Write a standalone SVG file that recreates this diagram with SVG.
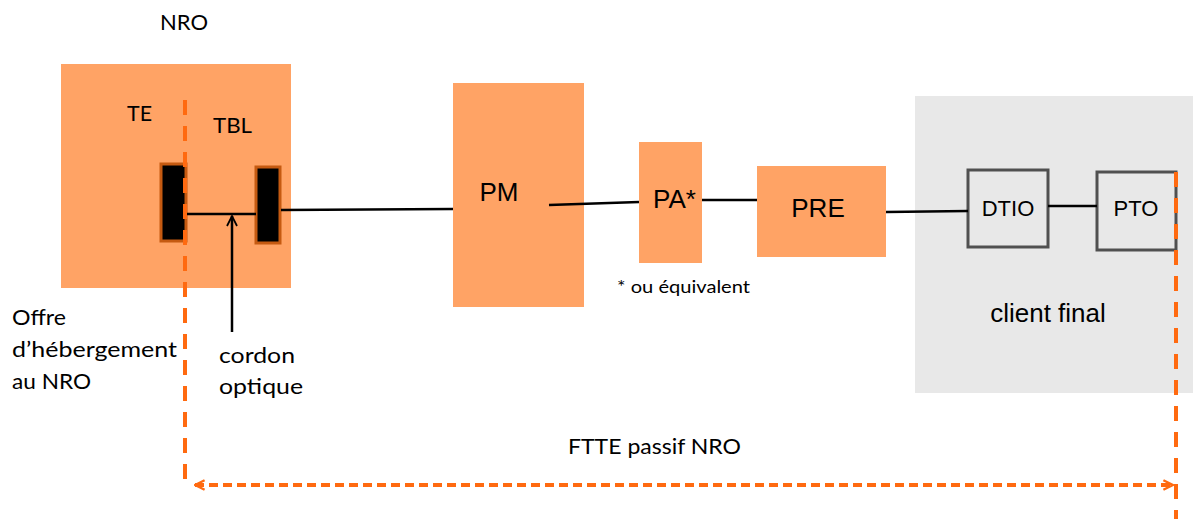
<svg xmlns="http://www.w3.org/2000/svg" width="1193" height="519" viewBox="0 0 1193 519">
<defs>
<style>
.box{fill:#FFA365}
.term{fill:#000;stroke:#C55A11;stroke-width:3}
.wht{fill:none;stroke:#505050;stroke-width:3}
.ln{stroke:#000;stroke-width:2.5;fill:none}
.od{stroke:#FF6A10;stroke-width:4;fill:none;stroke-dasharray:15 11}
.oh{stroke:#FF6A10;stroke-width:4;fill:none;stroke-dasharray:9 5}
.t1{font-family:"Liberation Sans",Arial,sans-serif;fill:#000}
.t2{font-family:Lato,"Open Sans",sans-serif;fill:#000}
</style>
<marker id="oa" viewBox="0 0 10 10" refX="9" refY="5" markerWidth="3" markerHeight="3" orient="auto-start-reverse" markerUnits="strokeWidth">
<path d="M1,1 L9,5 L1,9" fill="none" stroke="#FF6A10" stroke-width="2"/>
</marker>
<marker id="ba" viewBox="0 0 10 10" refX="9" refY="5" markerWidth="5" markerHeight="5" orient="auto" markerUnits="strokeWidth">
<path d="M1,1 L9,5 L1,9" fill="none" stroke="#000" stroke-width="1.4"/>
</marker>
</defs>
<rect width="1193" height="519" fill="#fff"/>

<g id="client">
<rect x="915" y="96" width="278" height="297" fill="#E8E8E8"/>
<text class="t1" x="1048" y="322" font-size="26" text-anchor="middle">client final</text>
</g>

<g id="nro">
<text class="t2" x="160" y="30" font-size="22" textLength="48" lengthAdjust="spacingAndGlyphs">NRO</text>
<rect class="box" x="61" y="64" width="230" height="224"/>
<text class="t2" x="127" y="121" font-size="22" textLength="25" lengthAdjust="spacingAndGlyphs">TE</text>
<text class="t2" x="213" y="133" font-size="22" textLength="39" lengthAdjust="spacingAndGlyphs">TBL</text>
</g>
<g id="te-term"><rect class="term" x="161" y="164" width="25" height="77"/></g>
<g id="tbl-term"><rect class="term" x="256" y="167" width="24" height="76"/></g>

<g id="pm">
<rect class="box" x="453" y="83" width="131" height="224"/>
<text class="t1" x="499" y="201" font-size="26" text-anchor="middle">PM</text>
</g>
<g id="pa">
<rect class="box" x="639" y="142" width="63" height="121"/>
<text class="t1" x="653" y="208" font-size="26">PA*</text>
<text class="t2" x="617" y="293" font-size="17" textLength="133" lengthAdjust="spacingAndGlyphs">* ou équivalent</text>
</g>
<g id="pre">
<rect class="box" x="757" y="166" width="129" height="91"/>
<text class="t1" x="818" y="217" font-size="26" text-anchor="middle">PRE</text>
</g>
<g id="dtio">
<rect class="wht" x="968" y="170" width="80" height="77"/>
<text class="t1" x="1008" y="216" font-size="22" text-anchor="middle">DTIO</text>
</g>
<g id="pto">
<rect class="wht" x="1097" y="172" width="79" height="78"/>
<text class="t1" x="1136" y="216" font-size="22" text-anchor="middle">PTO</text>
</g>

<g id="labels">
<text class="t2" x="12" y="325" font-size="22" textLength="54" lengthAdjust="spacingAndGlyphs">Offre</text>
<text class="t2" x="12" y="357" font-size="22" textLength="165" lengthAdjust="spacingAndGlyphs">d’hébergement</text>
<text class="t2" x="12" y="389" font-size="22" textLength="79" lengthAdjust="spacingAndGlyphs">au NRO</text>
<text class="t2" x="219" y="363" font-size="22" textLength="76" lengthAdjust="spacingAndGlyphs">cordon</text>
<text class="t2" x="219" y="394" font-size="22" textLength="84" lengthAdjust="spacingAndGlyphs">optique</text>
<text class="t2" x="568" y="454" font-size="22" textLength="173" lengthAdjust="spacingAndGlyphs">FTTE passif NRO</text>
</g>

<g id="connectors">
<line class="ln" x1="186" y1="214" x2="256" y2="214"/>
<line class="ln" x1="232" y1="332" x2="232" y2="216" marker-end="url(#ba)"/>
<line class="ln" x1="281" y1="210" x2="453" y2="209"/>
<line class="ln" x1="549" y1="205" x2="639" y2="202"/>
<line class="ln" x1="702" y1="200" x2="757" y2="200"/>
<line class="ln" x1="886" y1="212" x2="968" y2="211"/>
<line class="ln" x1="1048" y1="206" x2="1097" y2="206"/>
<line class="od" x1="185" y1="100" x2="185" y2="487"/>
<line class="od" x1="1176" y1="172" x2="1176" y2="519"/>
<line class="oh" x1="195" y1="485" x2="1173" y2="485" marker-start="url(#oa)" marker-end="url(#oa)"/>
</g>
</svg>
